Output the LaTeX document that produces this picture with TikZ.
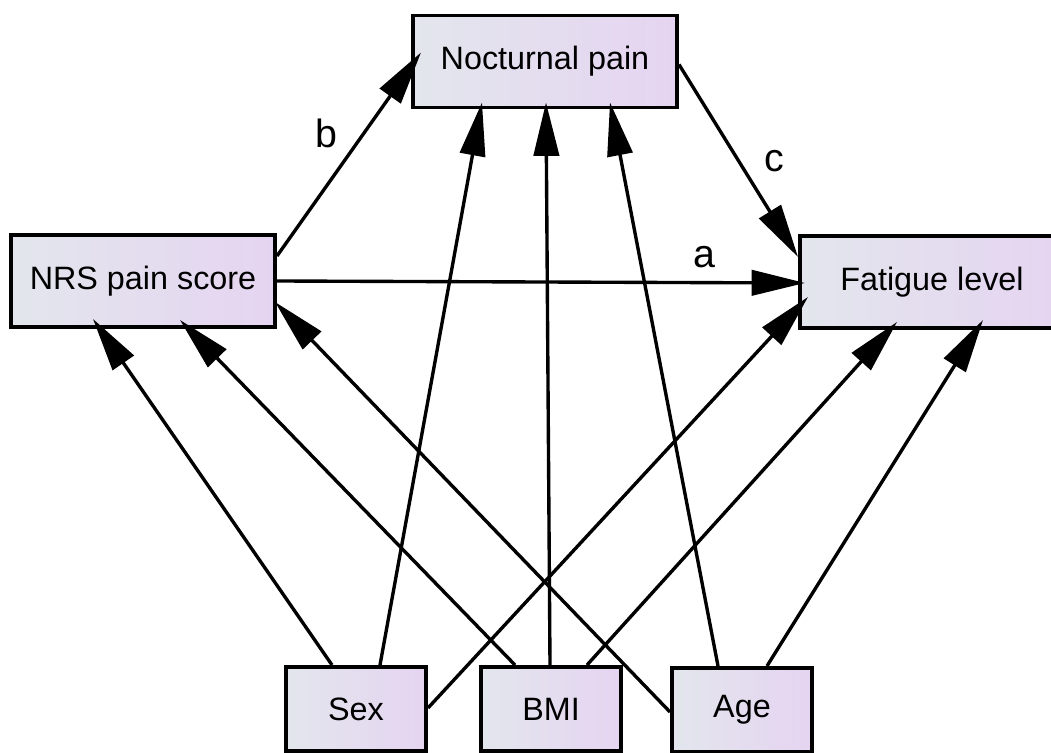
\documentclass[tikz,border=0pt]{standalone}
\usepackage{fontspec}
\setmainfont{Liberation Sans}
\usetikzlibrary{arrows.meta, calc}

\definecolor{boxleft}{RGB}{227,230,237}
\definecolor{boxright}{RGB}{229,212,241}

\begin{document}
\begin{tikzpicture}[
        x=0.025cm, y=-0.025cm,
        var/.style={rectangle, draw=black, line width=2.8pt, left color=boxleft, right color=boxright,
                    minimum width=6.6cm, minimum height=2.3cm, text centered,
                    font=\fontsize{23}{27}\selectfont},
        covar/.style={var, minimum width=3.5cm, minimum height=2.1cm},
        arrow/.style={line width=2.4pt, -{Triangle[length=38pt, width=18pt]}},
        coef/.style={font=\fontsize{28}{32}\selectfont}
    ]
        \useasboundingbox (0,0) rectangle (1051,753);

        \node[var] (noct) at (545,61.5) {Nocturnal pain};
        \node[var] (nrs) at (143,281) {NRS pain score};
        \node[var] (fat) at (932,282) {Fatigue level};

        \node[covar] (sex) at (356,709) {Sex};
        \node[covar] (bmi) at (551,709) {BMI};
        \node[covar] (age) at (742,710) {Age};

        % mediation paths
        \draw[arrow] (nrs.east) -- node[coef, pos=0.81, above=6pt] {a} ($(fat.west)+(7,1)$);
        \draw[arrow] ($(nrs.east)+(0,-25)$) -- node[coef, pos=0.6, left=14pt] {b} ($(noct.west)+(10,-9)$);
        \draw[arrow] ($(noct.east)+(0,3)$) -- node[coef, pos=0.5, right=14pt] {c} ($(fat.west)+(0,-25)$);

        % covariates
        \draw[arrow] ($(sex.north)+(-24,0)$) -- ($(nrs.south)+(-50,-10)$);
        \draw[arrow] ($(sex.north)+(24,0)$) -- ($(noct.south)+(-63,-7)$);
        \draw[arrow] ($(sex.east)+(0,-1)$) -- ($(fat.west)+(10,15)$);

        \draw[arrow] ($(bmi.north)+(-36,0)$) -- ($(nrs.south)+(37,-9)$);
        \draw[arrow] ($(bmi.north)+(-1,0)$) -- ($(noct.south)+(1,-7)$);
        \draw[arrow] ($(bmi.north)+(36,0)$) -- ($(fat.south)+(-35,-8)$);

        \draw[arrow] ($(age.west)+(0,2)$) -- ($(nrs.east)+(-2,21)$);
        \draw[arrow] ($(age.north)+(-24,0)$) -- ($(noct.south)+(65,-7)$);
        \draw[arrow] ($(age.north)+(25,0)$) -- ($(fat.south)+(51,-10)$);
    \end{tikzpicture}
\end{document}
